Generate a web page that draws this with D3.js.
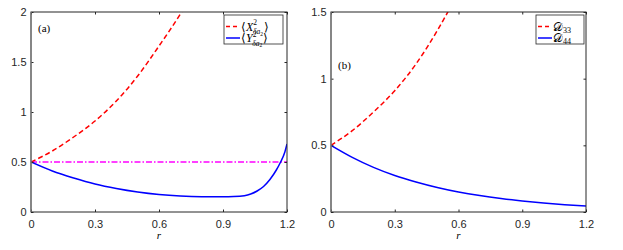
<!DOCTYPE html>
<html>
<head>
<meta charset="utf-8">
<script src="https://cdn.jsdelivr.net/npm/d3@7"></script>
<style>
  body { margin: 0; background: #fff; }
  .tick text { font-family: "Liberation Sans", Arial, sans-serif; font-size: 11px; fill: #262626; }
  .lab { font-family: "Liberation Serif", "Times New Roman", serif; fill: #000; }
</style>
</head>
<body>
<div id="chart"></div>
<script>
// panel (a)
const rA = [0, 0.1, 0.2, 0.3, 0.4, 0.5, 0.6, 0.7, 0.72];
const xSqA = [0.5, 0.61, 0.75, 0.91, 1.11, 1.36, 1.66, 1.98, 2.05];
const rB = [0, 0.1, 0.2, 0.3, 0.4, 0.5, 0.6, 0.7, 0.8, 0.9, 0.95, 1.0, 1.03, 1.06, 1.09, 1.12, 1.15, 1.17, 1.19, 1.2];
const ySqA = [0.5, 0.41, 0.34, 0.28, 0.235, 0.2, 0.175, 0.16, 0.153, 0.152, 0.154, 0.163, 0.18, 0.21, 0.255, 0.325, 0.42, 0.5, 0.6, 0.68];
const refLine = [0.5, 0.5];
const refR = [0, 1.2];

// panel (b)
const rC = [0, 0.1, 0.2, 0.3, 0.4, 0.5, 0.56];
const d33 = [0.5, 0.61, 0.75, 0.91, 1.11, 1.36, 1.53];
const rD = [0, 0.1, 0.2, 0.3, 0.4, 0.5, 0.6, 0.7, 0.8, 0.9, 1.0, 1.1, 1.2];
const d44 = [0.5, 0.41, 0.335, 0.274, 0.225, 0.184, 0.15, 0.123, 0.101, 0.083, 0.068, 0.055, 0.045];

const xTicks = [0, 0.3, 0.6, 0.9, 1.2];
const yTicksA = [0, 0.5, 1, 1.5, 2];
const yTicksB = [0, 0.5, 1, 1.5];

const svg = d3.select('#chart').append('svg')
  .attr('width', 623).attr('height', 250);

const zip = (xs, ys) => xs.map((x, i) => ({ r: x, v: ys[i] }));

function panel(id, left, right, yMax, yTicks, series, label, labelPos, legend, legendBox) {
  const top = 12, bottom = 212;
  const x = d3.scaleLinear().domain([0, 1.2]).range([left, right]);
  const y = d3.scaleLinear().domain([0, yMax]).range([bottom, top]);
  const g = svg.append('g');

  g.append('clipPath').attr('id', 'clip' + id)
    .append('rect').attr('x', left).attr('y', top).attr('width', right - left).attr('height', bottom - top);

  const line = d3.line().x(d => x(d.r)).y(d => y(d.v)).curve(d3.curveMonotoneX);
  series.forEach(s => {
    g.append('path')
      .attr('clip-path', `url(#clip${id})`)
      .attr('d', line(s.data))
      .attr('fill', 'none')
      .attr('stroke', s.color)
      .attr('stroke-width', 1.5)
      .attr('stroke-dasharray', s.dash || null);
  });

  const tl = 2.5;
  g.append('g').attr('transform', `translate(0,${bottom})`)
    .call(d3.axisBottom(x).tickValues(xTicks).tickSizeInner(-tl).tickSizeOuter(0).tickPadding(8.5)
      .tickFormat(d => d3.format('')(d)));
  g.append('g').attr('transform', `translate(0,${top})`)
    .call(d3.axisTop(x).tickValues(xTicks).tickSizeInner(-tl).tickSizeOuter(0).tickFormat(''));
  g.append('g').attr('transform', `translate(${left},0)`)
    .call(d3.axisLeft(y).tickValues(yTicks).tickSizeInner(-tl).tickSizeOuter(0).tickPadding(4.5)
      .tickFormat(d => d3.format('')(d)));
  g.append('g').attr('transform', `translate(${right},0)`)
    .call(d3.axisRight(y).tickValues(yTicks).tickSizeInner(-tl).tickSizeOuter(0).tickFormat(''));
  g.selectAll('.tick line').attr('stroke', '#262626');
  g.selectAll('.domain').remove();
  g.append('rect').attr('x', left).attr('y', top).attr('width', right - left).attr('height', bottom - top)
    .attr('fill', 'none').attr('stroke', '#262626').attr('stroke-width', 1);
  // left axis appears a bit heavier
  g.append('line').attr('x1', left).attr('x2', left).attr('y1', top).attr('y2', bottom)
    .attr('stroke', '#808080').attr('stroke-width', 1.3);

  g.append('text').attr('class', 'lab').attr('x', (left + right) / 2).attr('y', 239)
    .attr('text-anchor', 'middle').attr('font-style', 'italic').attr('font-size', 11).text('r');

  g.append('text').attr('class', 'lab').attr('x', labelPos[0]).attr('y', labelPos[1])
    .attr('font-size', 11).text(label);

  // legend
  const lg = g.append('g');
  lg.append('rect').attr('x', legendBox[0]).attr('y', legendBox[1]).attr('width', legendBox[2]).attr('height', legendBox[3])
    .attr('fill', '#fff').attr('stroke', '#262626').attr('stroke-width', 0.8);
  legend.forEach((l, i) => {
    const yy = legendBox[1] + 11.5 + i * 11.5;
    lg.append('line').attr('x1', legendBox[0] + 2).attr('x2', legendBox[0] + 16).attr('y1', yy).attr('y2', yy)
      .attr('stroke', l.color).attr('stroke-width', 1.5).attr('stroke-dasharray', l.dash || null);
    const t = lg.append('text').attr('class', 'lab').attr('x', legendBox[0] + 17).attr('y', yy + 4).attr('font-size', 12);
    l.parts.forEach(p => {
      const ts = t.append('tspan').text(p.t);
      if (p.italic) ts.attr('font-style', 'italic');
      if (p.size) ts.attr('font-size', p.size);
      if (p.dy) ts.attr('dy', p.dy);
      if (p.dx) ts.attr('dx', p.dx);
    });
  });
}

const brk = (letter) => [
  { t: '\u27E8' },
  { t: letter, italic: true },
  { t: '2', size: 7.5, dy: -5.5 },
  { t: '\u03B4a', italic: true, size: 7.5, dy: 9, dx: -4.2 },
  { t: '2', size: 5.5, dy: 1.5 },
  { t: '\u27E9', dy: -5, dx: 1 }
];

panel('a', 31, 287, 2, yTicksA, [
  { data: zip(refR, refLine), color: '#ff00ff', dash: '6,2,1.5,2' },
  { data: zip(rA, xSqA), color: '#ff0000', dash: '5,3' },
  { data: zip(rB, ySqA), color: '#0000ff' }
], '(a)', [38, 32], [
  { color: '#ff0000', dash: '4,3', parts: brk('X') },
  { color: '#0000ff', parts: brk('Y') }
], [224, 15, 59, 29]);

panel('b', 331, 586, 1.5, yTicksB, [
  { data: zip(rC, d33), color: '#ff0000', dash: '5,3' },
  { data: zip(rD, d44), color: '#0000ff' }
], '(b)', [338, 69], [
  { color: '#ff0000', dash: '4,3', parts: [{ t: '\uD835\uDC9F' }, { t: '33', size: 8, dy: 2 }] },
  { color: '#0000ff', parts: [{ t: '\uD835\uDC9F' }, { t: '44', size: 8, dy: 2 }] }
], [536, 15, 48, 29]);
</script>
</body>
</html>
